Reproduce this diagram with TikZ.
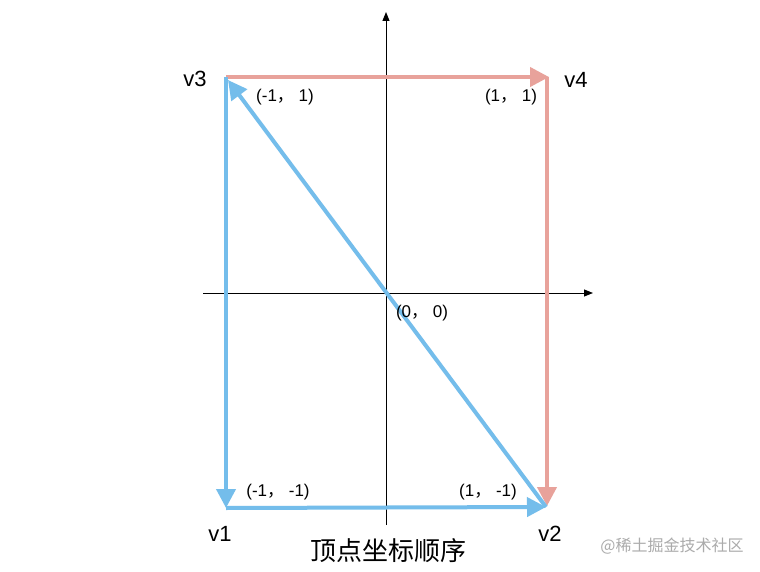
\documentclass[tikz,border=0pt]{standalone}
\usepackage{fontspec}
\setmainfont{Liberation Sans}
\newfontfamily\cjk{Noto Sans CJK SC}
\usetikzlibrary{arrows.meta}
\definecolor{vblue}{HTML}{74BDEB}
\definecolor{vred}{HTML}{E8A29B}

\begin{document}
\begin{tikzpicture}[x=1pt,y=-1pt,
    axis/.style={line width=1pt,-{Triangle[length=9pt,width=7pt]}},
    blueedge/.style={vblue,line width=4pt,-{Triangle[length=19pt,width=19pt]}},
    rededge/.style={vred,line width=4pt,-{Triangle[length=19pt,width=19pt]}},
    vlabel/.style={font=\fontsize{22}{22}\selectfont},
    clabel/.style={font=\fontsize{17}{17}\selectfont}]
            \useasboundingbox (0,0) rectangle (760,572);
            \fill[white] (0,0) rectangle (760,572);
            \coordinate (O) at (386,293);
            \coordinate (v1) at (226,508);
            \coordinate (v2) at (546,507);
            \coordinate (v3) at (226,77);
            \coordinate (v4) at (549,77);
            \coordinate (xl) at (203,293);
            \coordinate (xr) at (593,293);
            \coordinate (yb) at (386,525);
            \coordinate (yt) at (386,12);
            \draw[axis] (xl) -- (xr);
            \draw[axis] (yb) -- (yt);
            \draw[rededge] (v3) -- (v4);
            \draw[rededge] (547,77) -- (547,506);
            \draw[blueedge] (v3) -- (v1);
            \draw[blueedge] (v1) -- (v2);
            \draw[blueedge] (v2) -- (228,80);
            \node[vlabel] (l3) at (195,79) {v3};
            \node[vlabel] (l4) at (576,80) {v4};
            \node[vlabel] (l1) at (220,534) {v1};
            \node[vlabel] (l2) at (550,534) {v2};
            \node[clabel] (c3) at (285,97) {(-1{\cjk ，}\ 1)};
            \node[clabel] (c4) at (511,97) {(1{\cjk ，}\ 1)};
            \node[clabel] (c0) at (422,313) {(0{\cjk ，}\ 0)};
            \node[clabel] (c1) at (278,492) {(-1{\cjk ，}\ -1)};
            \node[clabel] (c2) at (488,492) {(1{\cjk ，}\ -1)};
            \node[font=\cjk\fontsize{26}{26}\selectfont] (title) at (388,551) {顶点坐标顺序};
            \node[font=\cjk\fontsize{16}{16}\selectfont,text=black!33] (mark) at (672,546) {@稀土掘金技术社区};
        \end{tikzpicture}
\end{document}
